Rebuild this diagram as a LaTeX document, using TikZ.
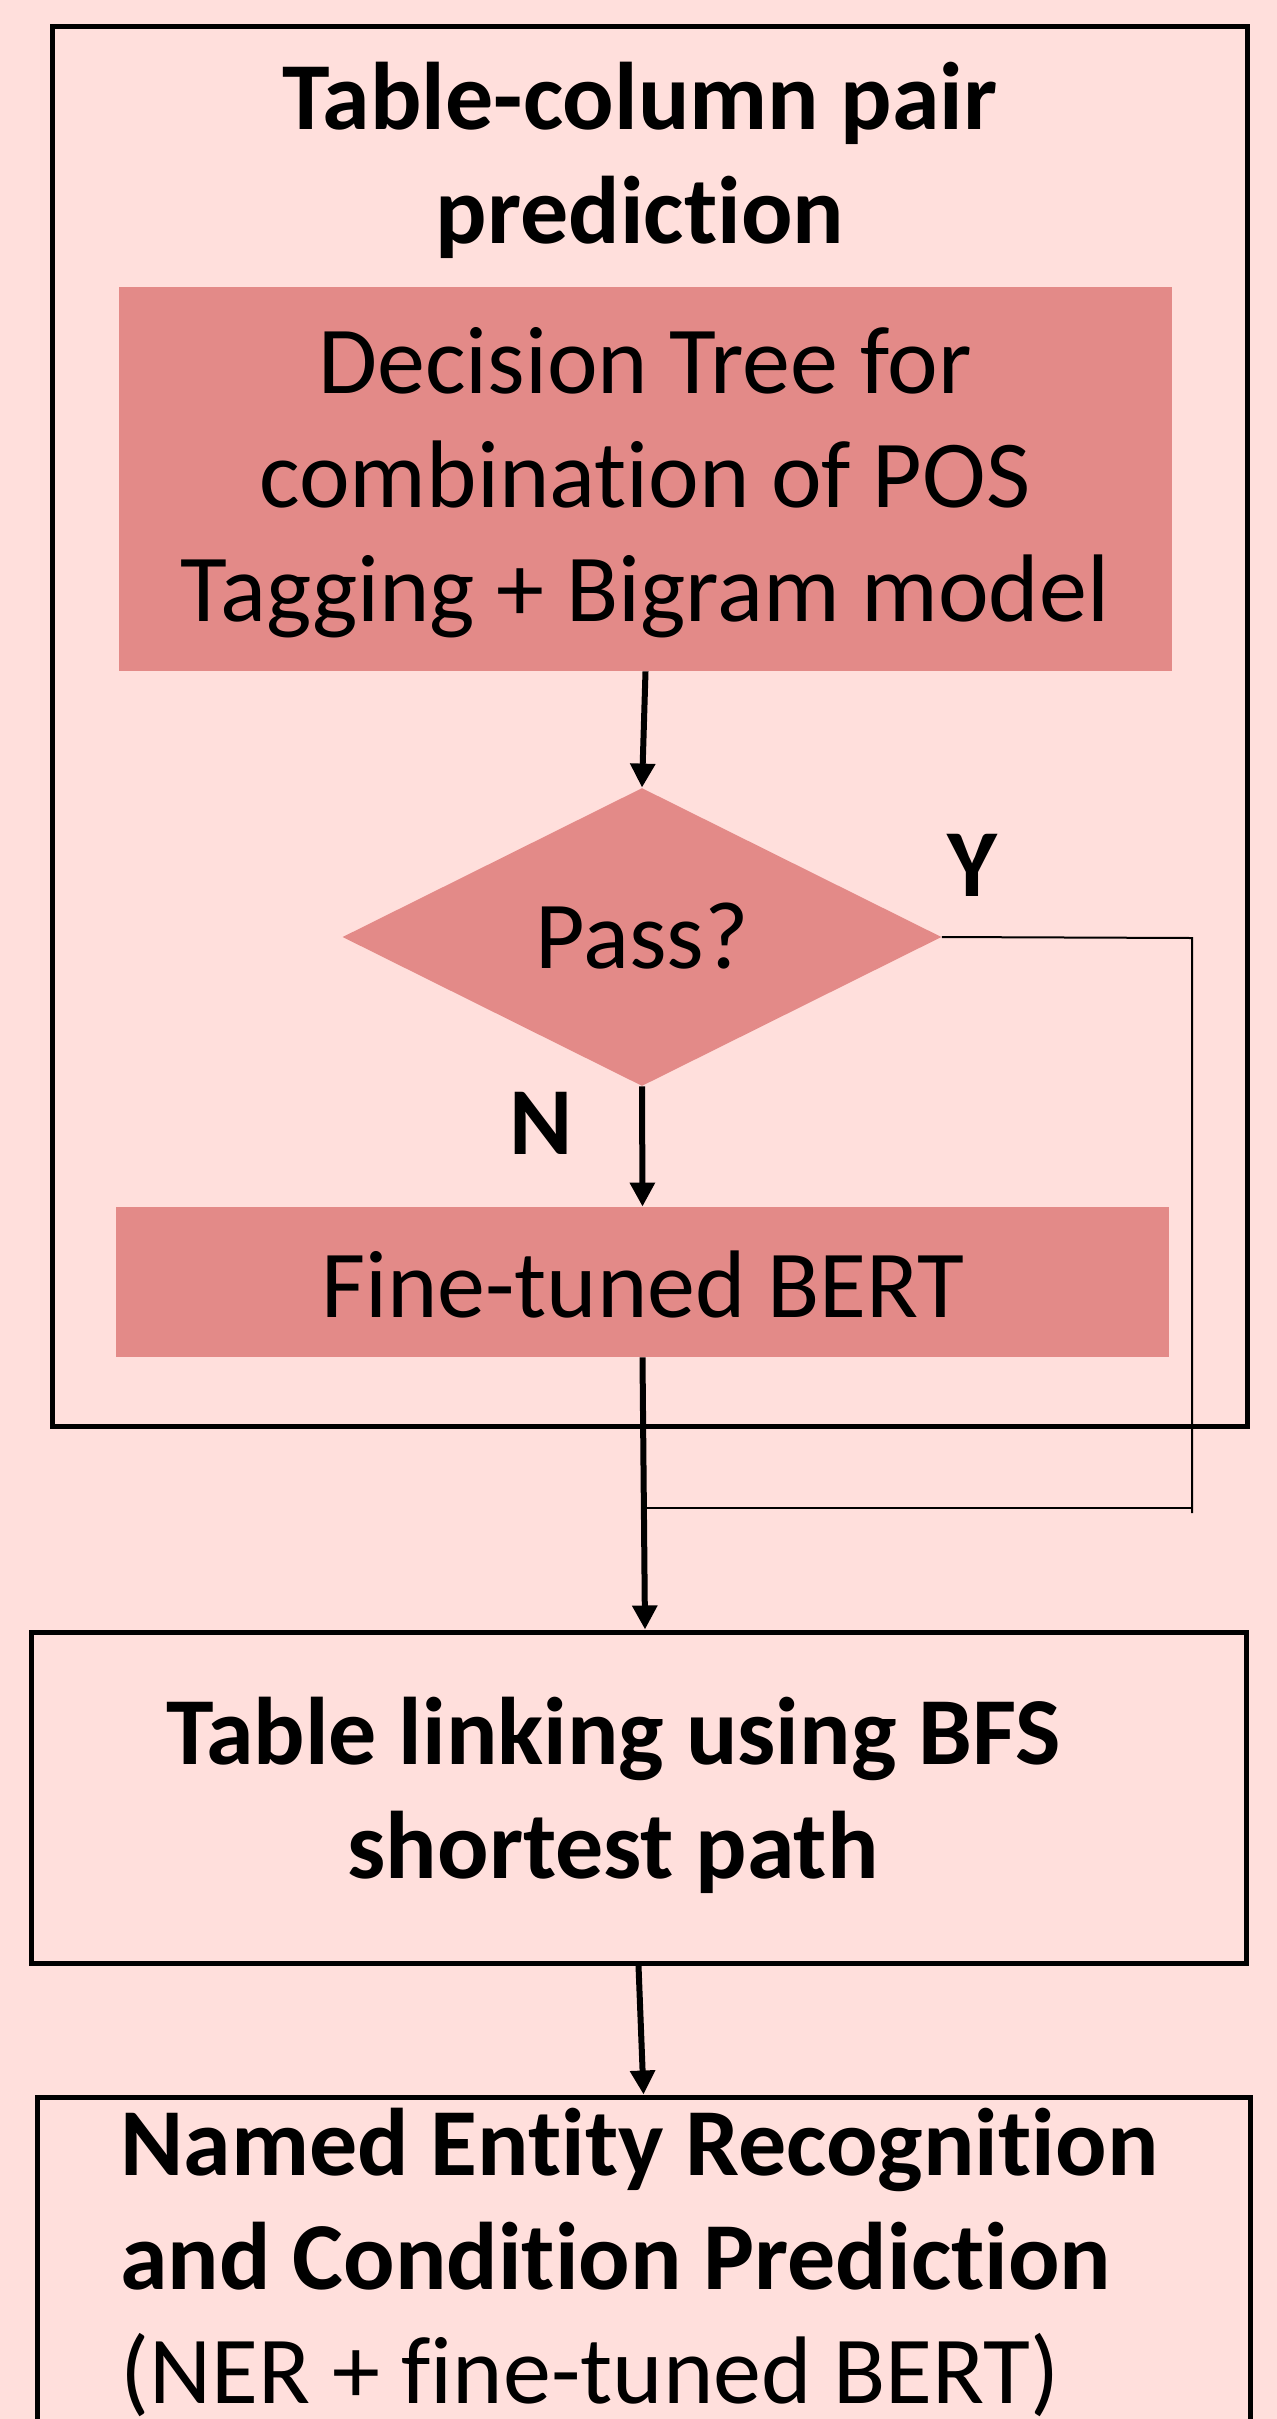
\documentclass[tikz,border=0pt]{standalone}
\usepackage{fontspec}
\setmainfont{Carlito}[Ligatures=CommonOff]
\usetikzlibrary{shapes.geometric,arrows.meta,fit}
\definecolor{bg}{HTML}{FFDFDC}
\definecolor{boxfill}{HTML}{E38A88}
\tikzset{
  frame/.style={draw=black, line width=2.5pt, inner sep=0pt, fill=none},
  pinkbox/.style={fill=boxfill, draw=none, inner sep=0pt},
  arr/.style={line width=3pt, -{Triangle[width=12pt,length=12pt]}},
  thin/.style={line width=1pt},
  bigtxt/.style={font=\fontsize{48pt}{57pt}\selectfont, align=center, inner sep=0pt},
  boldtxt/.style={font=\fontsize{48pt}{57pt}\selectfont\bfseries, align=center, inner sep=0pt},
}
\begin{document}
\begin{tikzpicture}[x=0.5pt,y=-0.5pt]
\clip (0,0) rectangle (1277,2419);
\fill[bg] (0,0) rectangle (1277,2419);
% outer frame
\node[frame, fit={(52,27) (1247,1426)}] (outer) {};
\node[boldtxt] (title) at (640,160) {Table-column pair\\prediction};
% decision tree
\node[pinkbox, fit={(119,287) (1172,671)}] (dt) {};
\node[bigtxt] (dttxt) at (645,483) {Decision Tree for\\combination of POS\\Tagging + Bigram model};
% diamond
\node[diamond, fill=boxfill, draw=none, inner sep=0pt, minimum width=299.5pt, minimum height=149pt] (dia) at (642,937) {};
\node[bigtxt] (passtxt) at (642,936) {Pass?};
% BERT
\node[pinkbox, fit={(116,1207) (1169,1357)}] (bert) {};
\node[bigtxt] (berttxt) at (643,1285) {Fine-tuned BERT};
% table linking
\node[frame, fit={(31,1632) (1246,1963)}] (tl) {};
\node[boldtxt] (tltxt) at (613,1795) {Table linking using BFS\\shortest path};
% NER box (bottom open beyond page)
\node[frame, fit={(37,2097) (1250,2460)}] (ner) {};
\node[font=\fontsize{48pt}{57pt}\selectfont, align=left, inner sep=0pt, anchor=west] (nertxt) at (120,2262) {\textbf{Named Entity Recognition}\\\textbf{and Condition Prediction}\\(NER + fine-tuned BERT)};
% labels
\node[boldtxt] (ylab) at (972,865) {Y};
\node[boldtxt] (nlab) at (541,1123) {N};
% connectors
\coordinate (ycorner) at (1192,938);
\coordinate (yend) at (1192,1513);
\coordinate (ybend) at (1192,1508);
\coordinate (jn) at (645,1508);
\draw[arr] (dt.south) -- (dia.north);
\draw[arr] (dia.south) -- (bert.north);
\draw[arr] (bert.south) -- (tl.north -| jn);
\draw[arr] (tl.south) -- (ner.north);
\draw[thin] (dia.east) -- (ycorner) -- (yend);
\draw[thin] (ybend) -- (jn);
\end{tikzpicture}
\end{document}
